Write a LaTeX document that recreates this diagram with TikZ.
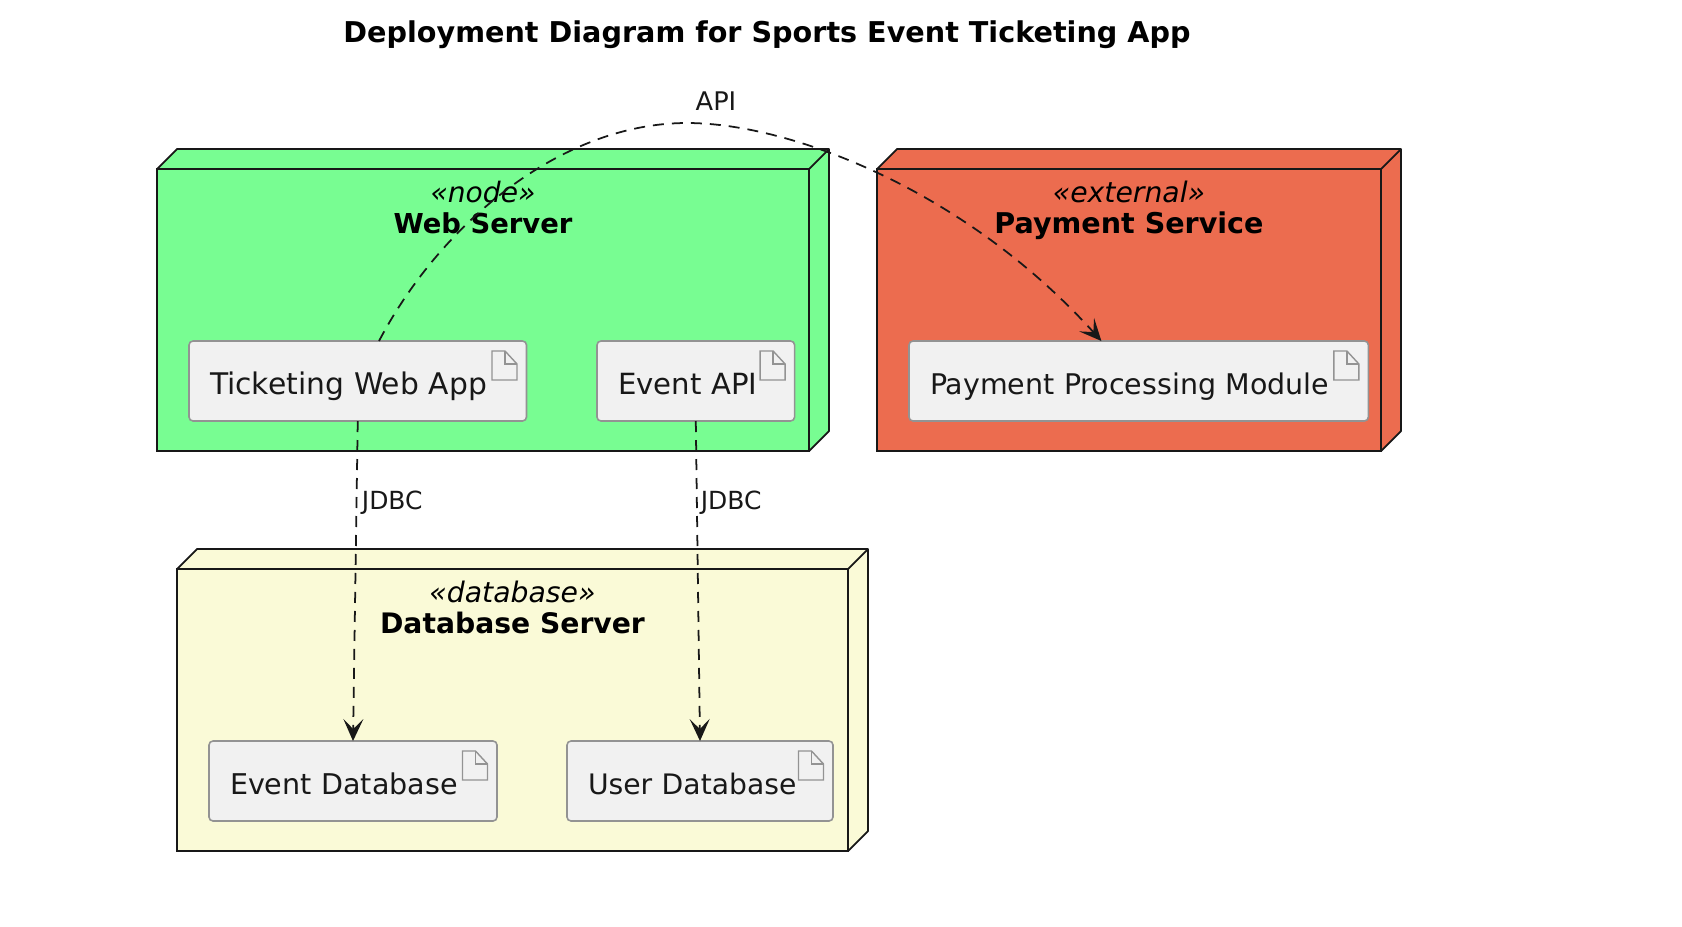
\documentclass[tikz,border=0pt]{standalone}
\usepackage{fontspec}
\setmainfont{DejaVu Sans}
\usepackage{xcolor}
\usetikzlibrary{positioning,calc,arrows.meta}

\definecolor{webgreen}{HTML}{78FD92}
\definecolor{payred}{HTML}{EC6C4F}
\definecolor{dbyellow}{HTML}{FAFAD7}
\definecolor{artgrey}{HTML}{F1F1F1}
\definecolor{lineblack}{HTML}{181818}

\tikzset{
	deploybox/.style={draw=lineblack, line width=0.5pt, anchor=north west, inner sep=0, outer sep=0},
	artifact/.style={draw=gray!85, fill=artgrey, line width=0.45pt, rounded corners=0.04cm, anchor=north west,
		inner xsep=0.21cm, inner ysep=0, outer sep=0, minimum height=0.8cm, align=left,
		text height=0.3cm, text depth=0.03cm, text=lineblack, font=\fontsize{#1}{10}\selectfont},
	boxtitle/.style={anchor=north, align=center, inner sep=0, text=black},
	depends/.style={draw=lineblack, line width=0.5pt, dash pattern=on 0.11cm off 0.08cm,
		-{Stealth[length=0.22cm, width=0.2cm, inset=0.1cm, fill=lineblack]}},
	linklabel/.style={text=lineblack, font=\fontsize{#1}{9}\selectfont}
}

\newcommand{\boxdepth}[2]{
	\draw[draw=lineblack, line width=0.5pt, line join=round, fill=#2] (#1.north west) -- ++(0.2,0.2)
		-- ($(#1.north east)+(0.2,0.2)$) -- ($(#1.south east)+(0.2,0.2)$) -- (#1.south east)
		-- (#1.north east) -- cycle;
	\draw[draw=lineblack, line width=0.5pt] (#1.north east) -- ++(0.2,0.2);
}
\newcommand{\docicon}[1]{
	\draw[draw=gray!85, line width=0.4pt, fill=artgrey] ($(#1.north east)+(-0.345,-0.1)$) -- ++(0.13,0) -- ++(0.12,-0.13)
		-- ++(0,-0.16) -- ++(-0.25,0) -- cycle;
	\draw[draw=gray!85, line width=0.4pt] ($(#1.north east)+(-0.215,-0.1)$) -- ++(0,-0.13) -- ++(0.12,0);
}

\begin{document}
\begin{tikzpicture}
	\useasboundingbox (0,0) rectangle (16.82,-9.26);

	\node[inner sep=0, text=black, font=\bfseries\fontsize{8.15}{10}\selectfont] (title) at (7.67,-0.35) {Deployment Diagram for Sports Event Ticketing App};

	\node[deploybox, fill=webgreen, minimum width=6.52cm, minimum height=2.82cm] (webbox) at (1.57,-1.69) {};
	\node[deploybox, fill=payred, minimum width=5.04cm, minimum height=2.82cm] (paybox) at (8.77,-1.69) {};
	\node[deploybox, fill=dbyellow, minimum width=6.71cm, minimum height=2.82cm] (dbbox) at (1.77,-5.69) {};
	\boxdepth{webbox}{webgreen}
	\boxdepth{paybox}{payred}
	\boxdepth{dbbox}{dbyellow}

	\node[boxtitle, below=0.11cm of webbox.north] (webtitle) {\fontsize{8}{8.8}\selectfont\itshape «node»\\[-0.105cm]\fontsize{7.8}{8.8}\selectfont\bfseries Web Server};
	\node[boxtitle, below=0.11cm of paybox.north] (paytitle) {\fontsize{8.05}{8.8}\selectfont\itshape «external»\\[-0.105cm]\fontsize{8.13}{8.8}\selectfont\bfseries Payment Service};
	\node[boxtitle, below=0.11cm of dbbox.north] (dbtitle) {\fontsize{8.05}{8.8}\selectfont\itshape «database»\\[-0.105cm]\fontsize{8.03}{8.8}\selectfont\bfseries Database Server};

	\node[artifact=8.47, text width=2.955cm] (webapp) at (1.89,-3.41) {Ticketing Web App};
	\node[artifact=8.3, text width=1.556cm] (eventapi) at (5.97,-3.41) {Event API};
	\node[artifact=8.1, text width=4.174cm] (paymodule) at (9.09,-3.41) {Payment Processing Module};
	\node[artifact=8.13, text width=2.46cm] (eventdb) at (2.09,-7.41) {Event Database};
	\node[artifact=8.03, text width=2.24cm] (userdb) at (5.67,-7.41) {User Database};
	\foreach \art in {webapp,eventapi,paymodule,eventdb,userdb}
		\docicon{\art};

	\coordinate (apipeak) at (6.87,-1.23);
	\draw[depends] (webapp.62) .. controls (4.40,-2.25) and (5.60,-1.23) .. (apipeak)
		.. controls (7.90,-1.23) and (9.65,-1.90) .. (paymodule.133.5);
	\node[linklabel=7.3, inner sep=0] (apilabel) at (7.16,-1.01) {API};

	\draw[depends] (webapp.south) -- node[linklabel=7.1, pos=0.255, anchor=west, inner sep=0.045cm] (jdbcone) {JDBC} (eventdb.north);
	\draw[depends] (eventapi.south) -- node[linklabel=7.1, pos=0.255, anchor=west, inner sep=0.03cm] (jdbctwo) {JDBC} (userdb.north);
\end{tikzpicture}
\end{document}
